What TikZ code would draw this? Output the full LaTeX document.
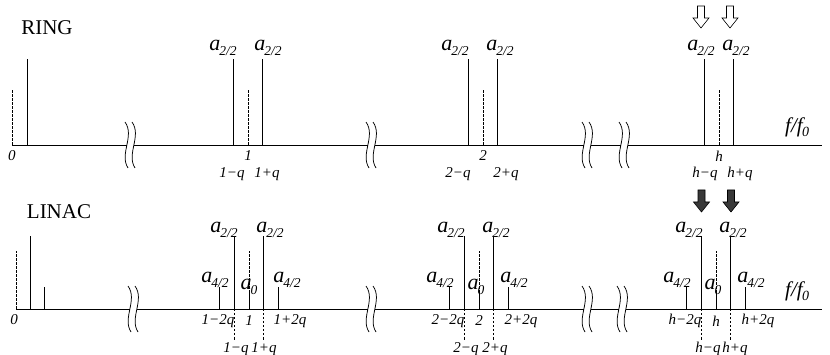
\documentclass[tikz,border=0pt]{standalone}
\usepackage{fontspec}
\setmainfont{Liberation Serif}
\newcommand\alab[1]{{\fontsize{22}{22}\selectfont\itshape a\kern-0.8pt\raisebox{-4.5pt}{\fontsize{13.5}{13.5}\selectfont #1}}}
\newcommand\ffz{{\fontsize{21}{21}\selectfont\itshape f/f\kern-0.5pt\raisebox{-4pt}{\fontsize{14}{14}\selectfont 0}}}
\newcommand\brkmark[2]{%
  \draw[brk] (#1-1,#2-23) .. controls (#1+9,#2-9) and (#1-7,#2+9) .. (#1+2,#2+23);
  \draw[brk] (#1+6,#2-23) .. controls (#1+16,#2-9) and (#1,#2+9) .. (#1+9,#2+23);}
\newcommand\blockarrow[3]{%
  \draw[#3] (#1-3.5,#2) -- (#1+3.5,#2) -- (#1+3.5,#2+12) -- (#1+8,#2+12) -- (#1,#2+22)
    -- (#1-8,#2+12) -- (#1-3.5,#2+12) -- cycle;}
\begin{document}
\begin{tikzpicture}[x=1pt,y=-1pt,
  axisline/.style={line width=0.8pt},
  sl/.style={line width=0.8pt},
  dl/.style={line width=0.7pt, dash pattern=on 2.5pt off 1.5pt},
  brk/.style={line width=0.75pt},
  ticklab/.style={font=\fontsize{15}{15}\selectfont\itshape, inner sep=0pt},
  alabel/.style={inner sep=0pt, anchor=base},
  titlelab/.style={font=\fontsize{21}{21}\selectfont, inner sep=0pt},
  openarrow/.style={line width=0.6pt, fill=white},
  fullarrow/.style={line width=0.6pt, fill=black!78}]
\useasboundingbox[fill=white] (0,0) rectangle (830,355);

% ================= RING =================
\node[titlelab] (ring) at (47,28) {RING};
% axis
\draw[axisline] (12,145) -- (127,145);
\draw[axisline] (134,145) -- (368,145);
\draw[axisline] (375,145) -- (584,145);
\draw[axisline] (591,145) -- (621,145);
\draw[axisline] (628,145) -- (822,145);
\brkmark{126}{145}
\brkmark{367}{145}
\brkmark{583}{145}
\brkmark{620}{145}
\node[anchor=base west, inner sep=0pt] (rff) at (785,133) {\ffz};
% zero
\draw[dl] (12,145) -- (12,90);
\draw[sl] (27,145) -- (27,59);
\node[ticklab] (r0) at (12,156) {0};
% groups
\foreach \c/\la/\lb/\ta/\tb/\t [count=\i] in {248/223/268/232/267/1, 483/455/500/458/506/2, 719/701/736/705/740/h}{
  \draw[sl] (\c-14.5,145) -- (\c-14.5,59);
  \draw[sl] (\c+14.5,145) -- (\c+14.5,59);
  \draw[dl] (\c,145) -- (\c,90);
  \node[alabel] (ra\i L) at (\la,51) {\alab{2/2}};
  \node[alabel] (ra\i R) at (\lb,51) {\alab{2/2}};
  \node[ticklab] (rt\i) at (\c,156) {\t};
  \node[ticklab] (rt\i L) at (\ta,174) {\t−q};
  \node[ticklab] (rt\i R) at (\tb,174) {\t+q};
}
\blockarrow{701}{6}{openarrow}
\blockarrow{730}{6}{openarrow}

% ================= LINAC =================
\node[titlelab] (linac) at (59,212) {LINAC};
\draw[axisline] (16,309) -- (130,309);
\draw[axisline] (137,309) -- (368,309);
\draw[axisline] (375,309) -- (584,309);
\draw[axisline] (591,309) -- (619,309);
\draw[axisline] (626,309) -- (822,309);
\brkmark{129}{309}
\brkmark{367}{309}
\brkmark{583}{309}
\brkmark{618}{309}
\node[anchor=base west, inner sep=0pt] (lff) at (785,297) {\ffz};
\draw[dl] (16,309) -- (16,251);
\draw[sl] (30,309) -- (30,236);
\draw[sl] (44,309) -- (44,287);
\node[ticklab] (l0) at (14,320) {0};
\foreach \c/\xa/\xz/\xb/\pa/\pb/\ta/\tb/\qa/\qb/\t [count=\i] in
   {249/215/249/287/224/270/218/290/236/264/1,
    479/440/476/514/451/496/448/521/466/495/2,
    716/677/713/751/689/733/685/758/708/735/h}{
  \draw[sl] (\c-30,309) -- (\c-30,287);
  \draw[sl] (\c+29,309) -- (\c+29,287);
  \draw[sl] (\c-14.5,309) -- (\c-14.5,236);
  \draw[sl] (\c+14.5,309) -- (\c+14.5,236);
  \draw[dl] (\c-14.5,309) -- (\c-14.5,340);
  \draw[dl] (\c+14.5,309) -- (\c+14.5,340);
  \draw[dl] (\c,293) -- (\c,251);
  \draw[sl] (\c,309) -- (\c,293);
  \node[alabel] (la\i L) at (\pa,233) {\alab{2/2}};
  \node[alabel] (la\i R) at (\pb,233) {\alab{2/2}};
  \node[alabel] (lb\i L) at (\xa,283) {\alab{4/2}};
  \node[alabel] (lb\i R) at (\xb,283) {\alab{4/2}};
  \node[alabel] (lz\i) at (\xz,290) {\alab{0}};
  \node[ticklab] (lt\i) at (\c,321) {\t};
  \node[ticklab] (lt\i A) at (\ta,321) {\t−2q};
  \node[ticklab] (lt\i B) at (\tb,321) {\t+2q};
  \node[ticklab] (lt\i L) at (\qa,349) {\t−q};
  \node[ticklab] (lt\i R) at (\qb,349) {\t+q};
}
\blockarrow{701.5}{190}{fullarrow}
\blockarrow{731}{190}{fullarrow}
\end{tikzpicture}
\end{document}
